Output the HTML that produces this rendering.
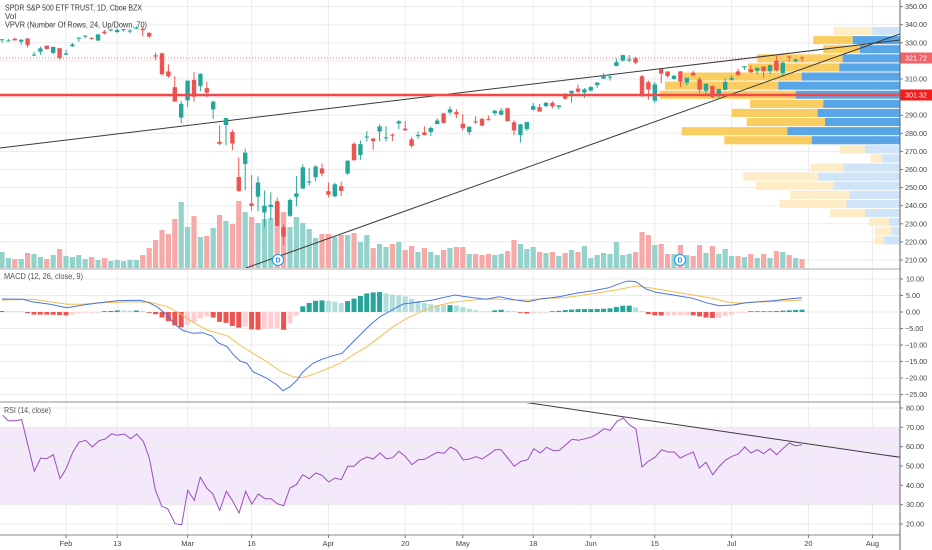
<!DOCTYPE html>
<html><head><meta charset="utf-8"><title>SPY chart</title>
<style>
html,body{margin:0;padding:0;background:#fff;width:932px;height:550px;overflow:hidden;}
svg{display:block;font-family:"Liberation Sans",Arial,sans-serif;}
</style></head><body>
<svg id="s" width="932" height="550" viewBox="0 0 932 550" xmlns="http://www.w3.org/2000/svg">
<defs>
<clipPath id="cm"><rect x="0" y="0" width="900" height="268"/></clipPath>
<clipPath id="cd"><rect x="0" y="270" width="900" height="131"/></clipPath>
<clipPath id="cr"><rect x="0" y="403" width="900" height="132"/></clipPath>
</defs>
<rect width="932" height="550" fill="#fff"/>
<rect x="0" y="427.3" width="900" height="77.4" fill="#f4e8fb"/>
<g id="grid" stroke="#ebebeb" stroke-width="1"></g>
<line x1="0" y1="58" x2="900" y2="58" stroke="#f07070" stroke-width="1" stroke-dasharray="1,2"/>
<g id="vp" clip-path="url(#cm)"></g>
<g id="vol" clip-path="url(#cm)"></g>
<g clip-path="url(#cm)" stroke="#3a3a3a" stroke-width="1" fill="none">
 <line x1="0" y1="148" x2="900" y2="40"/>
 <line x1="246" y1="268" x2="900" y2="34"/>
</g>
<g id="cdl" clip-path="url(#cm)"></g>
<line x1="0" y1="95" x2="900" y2="95" stroke="#ef4a4a" stroke-width="2.5"/>

<g>
 <circle cx="278" cy="260" r="5.5" fill="#fff" stroke="#2196f3" stroke-width="1"/>
 <text x="278" y="262.6" font-size="7" font-weight="bold" fill="#2196f3" text-anchor="middle">D</text>
 <circle cx="680" cy="260" r="5.5" fill="#fff" stroke="#2196f3" stroke-width="1"/>
 <text x="680" y="262.6" font-size="7" font-weight="bold" fill="#2196f3" text-anchor="middle">D</text>
</g>

<!-- MACD -->
<g id="hist" clip-path="url(#cd)"></g>
<g clip-path="url(#cd)" fill="none" stroke-width="1">
<polyline id="sigL" stroke="#f6be50" points=""/>
<polyline id="macdL" stroke="#4a74e0" points=""/>
</g>

<!-- RSI -->
<g clip-path="url(#cr)" fill="none">
<polyline id="rsiL" stroke="#9b4fc0" stroke-width="1" points=""/>
<line x1="522.7" y1="402" x2="900" y2="457.3" stroke="#3a3a3a" stroke-width="1"/>
</g>

<!-- separators -->
<rect x="0" y="268" width="900" height="2" fill="#d4d4d4"/>
<rect x="0" y="401" width="900" height="2" fill="#c8c8c8"/>

<!-- axes -->
<rect x="900.5" y="0" width="31.5" height="550" fill="#fff"/>
<line x1="900" y1="0" x2="900" y2="550" stroke="#666" stroke-width="1"/>
<line x1="0" y1="535" x2="900" y2="535" stroke="#888" stroke-width="1"/>
<g id="ticks" stroke="#777" stroke-width="1"></g>

<!-- header text -->
<g font-size="8" fill="#3a3a3a">
<text x="5" y="10.5" textLength="137" lengthAdjust="spacingAndGlyphs">SPDR S&amp;P 500 ETF TRUST, 1D, Cboe BZX</text>
<text x="5" y="19">Vol</text>
<text x="5" y="27.7" textLength="142" lengthAdjust="spacingAndGlyphs">VPVR (Number Of Rows, 24, Up/Down, 70)</text>
<text x="4" y="279" textLength="79" lengthAdjust="spacingAndGlyphs" fill="#555">MACD (12, 26, close, 9)</text>
<text x="4" y="413" textLength="47" lengthAdjust="spacingAndGlyphs" fill="#555">RSI (14, close)</text>
</g>

<!-- price axis labels -->
<g font-size="7.2" fill="#444">
<text x="905" y="9.1">350.00</text>
<text x="905" y="27.2">340.00</text>
<text x="905" y="45.3">330.00</text>
<text x="905" y="81.5">310.00</text>
<text x="905" y="117.7">290.00</text>
<text x="905" y="135.8">280.00</text>
<text x="905" y="153.9">270.00</text>
<text x="905" y="172">260.00</text>
<text x="905" y="190.1">250.00</text>
<text x="905" y="208.2">240.00</text>
<text x="905" y="226.3">230.00</text>
<text x="905" y="244.4">220.00</text>
<text x="905" y="262.5">210.00</text>
</g>
<rect x="900.5" y="52.5" width="31.5" height="11" fill="#f0636a"/>
<text x="905" y="60.6" font-size="7.2" fill="#fff">321.72</text>
<rect x="900.5" y="89.5" width="31.5" height="11" fill="#f21d1d"/>
<text x="905" y="97.6" font-size="7.2" fill="#fff">301.32</text>

<!-- MACD axis labels -->
<g font-size="7.2" fill="#444">
<text x="906" y="281.5">10.00</text>
<text x="906" y="298">5.00</text>
<text x="906" y="314.5">0.00</text>
<text x="905" y="331">−5.00</text>
<text x="905" y="347.5">−10.00</text>
<text x="905" y="364">−15.00</text>
<text x="905" y="380.5">−20.00</text>
<text x="905" y="397">−25.00</text>
</g>

<!-- RSI axis labels -->
<g font-size="7.2" fill="#444">
<text x="906" y="410.5">80.00</text>
<text x="906" y="429.8">70.00</text>
<text x="906" y="449.2">60.00</text>
<text x="906" y="468.5">50.00</text>
<text x="906" y="487.9">40.00</text>
<text x="906" y="507.2">30.00</text>
<text x="906" y="526.5">20.00</text>
</g>

<!-- date labels -->
<g font-size="7.4" fill="#444" text-anchor="middle">
<text x="66" y="546">Feb</text>
<text x="117.2" y="546">13</text>
<text x="187.6" y="546">Mar</text>
<text x="251.6" y="546">16</text>
<text x="328.4" y="546">Apr</text>
<text x="405.2" y="546">20</text>
<text x="462.8" y="546">May</text>
<text x="533.2" y="546">18</text>
<text x="590.8" y="546">Jun</text>
<text x="654.8" y="546">15</text>
<text x="731.6" y="546">Jul</text>
<text x="808.4" y="546">20</text>
<text x="872.4" y="546">Aug</text>
</g>
</svg>
<script>
(function(){
var NS="http://www.w3.org/2000/svg";
function el(p,t,a){var e=document.createElementNS(NS,t);for(var k in a)e.setAttribute(k,a[k]);p.appendChild(e);return e;}
var S=6.4,X0=66;
function bx(i){return X0+i*S;}
function py(p){return 260-(p-210)*1.81;}
var grid=document.getElementById('grid');
var vx=[0,8,19,29,41,53,62,73,82,92,104,116,126];
vx.forEach(function(i){var x=bx(i);el(grid,'line',{x1:x,x2:x,y1:0,y2:535});});
for(var p=210;p<=350;p+=10){var y=py(p);el(grid,'line',{x1:0,x2:900,y1:y,y2:y});}
for(var v=10;v>=-25;v-=5){var y2=312-3.3*v;el(grid,'line',{x1:0,x2:900,y1:y2,y2:y2});}
for(var r=80;r>=20;r-=10){var y3=427.3+(70-r)*1.935;el(grid,'line',{x1:0,x2:900,y1:y3,y2:y3});}
var tk=document.getElementById('ticks');
for(var p2=210;p2<=350;p2+=10){var yy=py(p2);el(tk,'line',{x1:900,x2:903,y1:yy,y2:yy});}
for(var v2=10;v2>=-25;v2-=5){var yy2=312-3.3*v2;el(tk,'line',{x1:900,x2:903,y1:yy2,y2:yy2});}
for(var r2=80;r2>=20;r2-=10){var yy3=427.3+(70-r2)*1.935;el(tk,'line',{x1:900,x2:903,y1:yy3,y2:yy3});}
vx.forEach(function(i){var x=bx(i);el(tk,'line',{x1:x,x2:x,y1:535,y2:538});});

// VPVR rows: [yellowStart, blueStart, light]
var VP=[[834,872.3,1],[813.3,852.7,0],[823.3,860,0],[757.3,842.7,0],[748,839.3,0],[683.3,801.7,0],[665,778.3,0],[660,795.7,0],[750,823.3,0],[731.7,817.7,0],[746.7,825,0],[681.7,787.3,0],[724.3,811.7,0],[840,865,1],[870.7,881.7,1],[810.7,843.3,1],[743.3,818.3,1],[756,833.3,1],[790,850,1],[779.3,846.7,1],[830,865,1],[869.3,889.3,1],[875,891.7,1],[874.3,884,1]];
var gP=document.getElementById('vp');
VP.forEach(function(r,k){var y=27+k*9.1;
 el(gP,'rect',{x:r[0],y:y,width:r[1]-r[0],height:8.1,fill:r[2]?'#fdecc5':'#facd62'});
 el(gP,'rect',{x:r[1],y:y,width:900-r[1],height:8.1,fill:r[2]?'#cfe4f6':'#58a5e7'});
});

var D=[
[331.7,332.0,330.0,331.95,16],[330.9,332.2,330.8,331.3,10],[332.2,332.95,331.2,331.34,9],[330.6,332.0,328.9,331.72,9],[332.4,332.5,327.4,328.77,15],
[323.0,325.1,322.7,323.5,14],[325.1,327.9,323.4,326.89,11],[328.4,328.6,326.4,326.62,9],[324.4,327.9,323.8,327.68,13],[327.0,327.2,320.7,321.73,19],
[323.4,326.2,323.2,324.12,12],[328.1,330.0,327.7,329.06,11],[332.3,333.1,330.6,332.86,13],[333.9,334.2,332.4,333.98,9],[332.8,333.0,331.6,332.2,11],
[331.2,334.8,331.2,334.68,8],[336.2,337.0,334.6,335.26,10],[336.8,337.6,336.3,337.42,7],[335.9,338.1,335.6,337.06,8],[337.5,337.7,336.1,337.6,7],
[336.5,337.7,335.2,336.73,8],[337.8,339.1,337.5,338.34,8],[337.7,338.6,333.6,336.95,13],[335.5,335.8,332.6,333.48,20],[323.1,324.6,320.4,322.42,28],
[324.2,324.6,311.7,312.65,38],[314.2,318.1,310.7,311.5,34],[305.5,311.6,297.5,297.51,49],[288.7,297.9,285.5,296.26,66],[298.2,309.2,294.5,309.09,41],
[309.5,313.8,297.6,300.24,52],[306.1,313.1,303.3,312.86,31],[305.0,308.5,300.0,302.46,32],[293.2,298.0,288.0,297.46,40],[275.3,284.2,273.5,274.23,53],
[284.6,288.5,273.5,288.42,47],[280.7,281.9,270.7,274.36,44],[255.9,266.7,247.7,248.11,67],[263.1,271.5,248.5,269.32,56],[241.2,256.9,237.4,239.85,51],
[245.0,256.2,237.1,252.8,45],[236.3,248.4,228.0,240.0,49],[239.3,247.4,232.2,240.51,50],[242.5,244.5,228.8,228.8,65],[228.2,229.7,218.3,222.95,56],
[234.4,244.1,233.8,243.15,41],[244.9,256.4,239.7,246.79,51],[249.5,262.8,249.1,261.2,45],[252.8,260.8,251.1,253.42,39],[255.7,262.4,253.5,261.65,30],
[260.6,263.3,256.2,257.75,34],[248.0,252.9,244.6,246.15,34],[245.2,252.7,244.6,251.83,31],[250.8,253.3,245.2,248.19,33],[257.8,265.1,257.0,264.86,33],
[274.2,275.0,264.9,265.13,35],[268.0,276.0,265.3,274.03,26],[277.6,281.2,275.5,278.2,33],[277.1,277.5,270.9,275.66,20],[281.0,284.9,275.5,283.79,24],
[277.6,283.9,275.6,277.76,21],[279.2,280.0,275.8,279.1,24],[285.4,287.3,282.4,286.64,26],[282.6,286.8,281.4,281.59,18],[276.7,278.0,272.0,273.04,22],
[278.4,281.0,276.9,279.1,16],[280.5,283.9,278.9,279.08,20],[280.7,283.7,278.5,282.97,16],[285.1,288.3,284.9,287.05,13],[291.0,291.4,285.4,285.73,18],
[291.5,294.9,290.4,293.21,20],[291.7,293.3,288.4,290.48,21],[285.3,290.7,281.5,282.79,21],[280.7,283.9,279.1,283.57,14],[286.6,289.3,285.0,286.19,14],
[288.0,288.5,283.8,284.25,13],[287.8,289.8,287.1,287.68,14],[291.1,292.95,289.9,292.44,13],[290.3,294.0,289.9,292.5,14],[293.8,294.2,286.5,286.67,17],
[286.1,287.2,279.0,281.6,28],[279.0,285.1,274.9,285.0,24],[282.4,286.3,281.3,286.28,19],[293.0,296.8,292.7,295.0,21],[294.4,296.2,292.0,291.97,16],
[295.0,297.0,294.5,296.93,15],[296.8,297.7,293.7,294.88,16],[294.6,295.6,293.1,295.44,12],[301.9,302.2,298.7,299.08,15],[302.1,303.6,296.9,303.53,18],
[304.7,306.8,302.2,302.97,16],[302.5,305.0,299.5,304.32,22],[303.6,306.2,303.1,305.55,10],[306.6,308.1,305.1,308.08,13],[310.2,313.2,309.9,312.18,15],
[311.1,313.0,309.1,311.36,14],[317.2,321.3,317.0,319.34,26],[320.2,323.4,319.6,323.2,13],[320.3,323.3,319.4,320.79,14],[321.4,322.4,318.2,319.0,16],
[311.5,312.2,300.0,300.61,36],[308.2,309.1,298.6,304.21,33],[298.0,308.3,296.7,307.05,23],[315.5,315.6,307.7,312.96,24],[314.1,314.4,310.7,311.66,14],
[310.0,312.3,309.5,311.78,14],[314.2,314.4,305.6,308.64,23],[308.0,310.8,306.5,310.62,13],[313.5,314.5,311.6,312.05,12],[309.8,311.0,302.3,304.09,23],
[303.5,307.6,301.0,307.35,15],[306.2,306.4,299.4,300.05,22],[301.4,304.6,298.9,304.46,14],[304.0,310.2,303.8,308.36,19],[309.6,311.9,309.1,310.52,12],
[314.2,315.7,311.5,312.23,12],[316.4,317.1,315.0,317.05,11],[315.4,317.5,313.4,313.78,14],[314.6,316.3,312.7,316.18,10],[316.8,317.1,310.7,314.38,14],
[314.3,317.9,312.8,317.59,10],[320.1,322.7,314.1,314.84,17],[313.3,319.8,312.0,318.92,16],[322.4,323.0,319.6,321.85,13],[319.8,321.3,319.1,320.79,10],
[321.9,322.6,319.3,321.72,9]];
var gV=document.getElementById('vol'),gC=document.getElementById('cdl');
D.forEach(function(d,j){var i=j-10,x=bx(i),up=d[3]>=d[0];
 el(gV,'rect',{x:x-2.6,y:268-d[4],width:5.2,height:d[4],fill:up?'#93d3cc':'#f7a9a8'});
 var c=up?'#26a69a':'#ef5350';
 el(gC,'line',{x1:x,x2:x,y1:py(d[1]),y2:py(d[2]),stroke:c,'stroke-width':1});
 var yt=py(Math.max(d[0],d[3])),yb=py(Math.min(d[0],d[3]));
 el(gC,'rect',{x:x-2.2,y:yt,width:4.4,height:Math.max(1,yb-yt),fill:c});
});

var MACD=[[2,299],[23,299.3],[32,301.7],[50,304.3],[67,307.7],[83,305],[100,302.7],[117,300.7],[140,300.3],[148,302.3],[157,306.7],[167,315],[175,324.3],[182,330],[193,333.3],[203,332.7],[212,336],[218,342.7],[227,346.7],[233,354.3],[240,361],[247,363.3],[253,371.7],[267,378.3],[277,385],[283,390.7],[290,386.7],[297,380],[303,371.7],[313,363.3],[322,359.3],[333,355.7],[342,353.3],[350,345],[360,335],[370,325],[380,316.7],[392,310],[403,304],[417,302.3],[433,300],[447,296.7],[455,295],[466,296.7],[486,299.3],[499,296.7],[516,300],[528,301.7],[539,299.3],[559,296.7],[576,293.3],[593,290.7],[609,287.7],[623,282.3],[629,281],[636,281.7],[646,289],[656,292.3],[673,295],[693,298.3],[706,302.7],[719,305.7],[733,305],[746,302.7],[759,301.7],[773,300.7],[786,299.3],[802,297.7]];
var SIG=[[2,300],[33,299.3],[50,301.7],[67,304.3],[83,304.3],[100,302.7],[117,302.3],[133,301.7],[150,302.3],[167,306.7],[180,313.3],[193,322.3],[207,330],[227,335.7],[240,345],[253,353.3],[267,361.7],[280,371],[293,376.7],[303,377.7],[313,374.3],[327,369],[340,363.3],[353,355],[367,346.7],[380,336.7],[393,326.7],[407,318.3],[423,310.7],[440,305],[453,302.3],[466,300.7],[483,299],[499,299.3],[516,300],[529,300],[546,298.3],[563,297.7],[579,295.7],[599,292.7],[616,290],[636,286],[653,288.3],[673,291.7],[693,295],[713,298.3],[726,301.7],[739,303.3],[753,302.3],[766,301.7],[783,301],[802,300]];
var RSI=[[2.7,415.3],[8.3,420.7],[15,420.7],[21.7,419.7],[34.3,471.3],[40.7,458],[46.7,458.7],[53.3,454.7],[60,478.7],[65.7,469.7],[72.7,452.3],[79,442.3],[85.7,440.3],[92.3,447],[99,440.7],[105.3,439],[111.7,433.7],[117.3,435.3],[124.3,434],[130.7,438.7],[136.7,434],[143.3,441.3],[149.3,458],[155.3,489.7],[161.7,506.3],[167.7,508.7],[175,523.7],[181.7,524.7],[187.7,490.3],[194.3,500.3],[200.3,477.3],[206.7,488],[212.7,493.7],[219.7,510.3],[226.3,491.3],[232.3,500.3],[239,513],[245.7,491.3],[251.7,504],[258.3,494],[265,498.7],[271,498.7],[277.3,503.7],[283.7,505.7],[290,488],[296.3,484.7],[302.7,474.7],[309.3,478.7],[315.7,473],[322,475.3],[328.7,482],[335,478],[341.3,479.7],[347.7,466.3],[354,466.3],[360.7,460],[367,457],[373.3,459],[380,453],[386.3,458.7],[392.7,457.7],[399,451.3],[405.3,456.3],[412,464.7],[418.3,459.7],[424.7,459.3],[431,455.7],[437.3,452.3],[444,453.3],[450.3,447],[456.7,450.3],[463.3,460],[469.3,459],[476,456.7],[482,459],[488.7,454.7],[495.3,449.7],[501,449.7],[507.7,458],[514.3,466.3],[521,461.3],[527.7,459.7],[533.7,448.7],[540.3,453],[546.7,447.3],[553.3,450.7],[559.3,450.3],[565.3,445.3],[572,439.3],[578.3,440.3],[585.3,438.7],[591.7,437],[597.7,433.7],[604,428.7],[610.3,430.3],[617,421.3],[623.3,418],[629.3,424.7],[636,429],[642,467],[648.3,461.3],[655,457.3],[661.7,449.7],[667.7,452],[674.3,452],[680.3,458],[687,454.7],[693.3,452],[699.3,468],[706,462.3],[712.7,474.7],[718.7,467],[725.3,460.3],[732,456.3],[738.3,454],[744.7,447],[751,453],[757.3,449.7],[763.7,453.7],[770,448.7],[776.7,454.7],[782.7,448.7],[789.3,443],[795.3,445.7],[802,444.7]];
function pts(a){return a.map(function(q){return q[0]+','+q[1];}).join(' ');}
document.getElementById('macdL').setAttribute('points',pts(MACD));
document.getElementById('sigL').setAttribute('points',pts(SIG));
document.getElementById('rsiL').setAttribute('points',pts(RSI));
function interp(a,x){if(x<=a[0][0])return a[0][1];for(var k=1;k<a.length;k++){if(x<=a[k][0]){var A=a[k-1],B=a[k];return A[1]+(B[1]-A[1])*(x-A[0])/(B[0]-A[0]);}}return a[a.length-1][1];}
var gH=document.getElementById('hist'),prev=0;
for(var i=-10;i<=115;i++){var x=bx(i);var h=interp(SIG,x)-interp(MACD,x);var col;
 if(h>=0)col=(h>=prev)?'#26a69a':'#b2dfdb';else col=(h<prev)?'#ef5350':'#ffcdd2';
 prev=h;var hh=Math.max(Math.abs(h),0.8);
 el(gH,'rect',{x:x-2.5,y:h>=0?312-hh:312,width:5,height:hh,fill:col});}
})();
</script>
</body></html>
